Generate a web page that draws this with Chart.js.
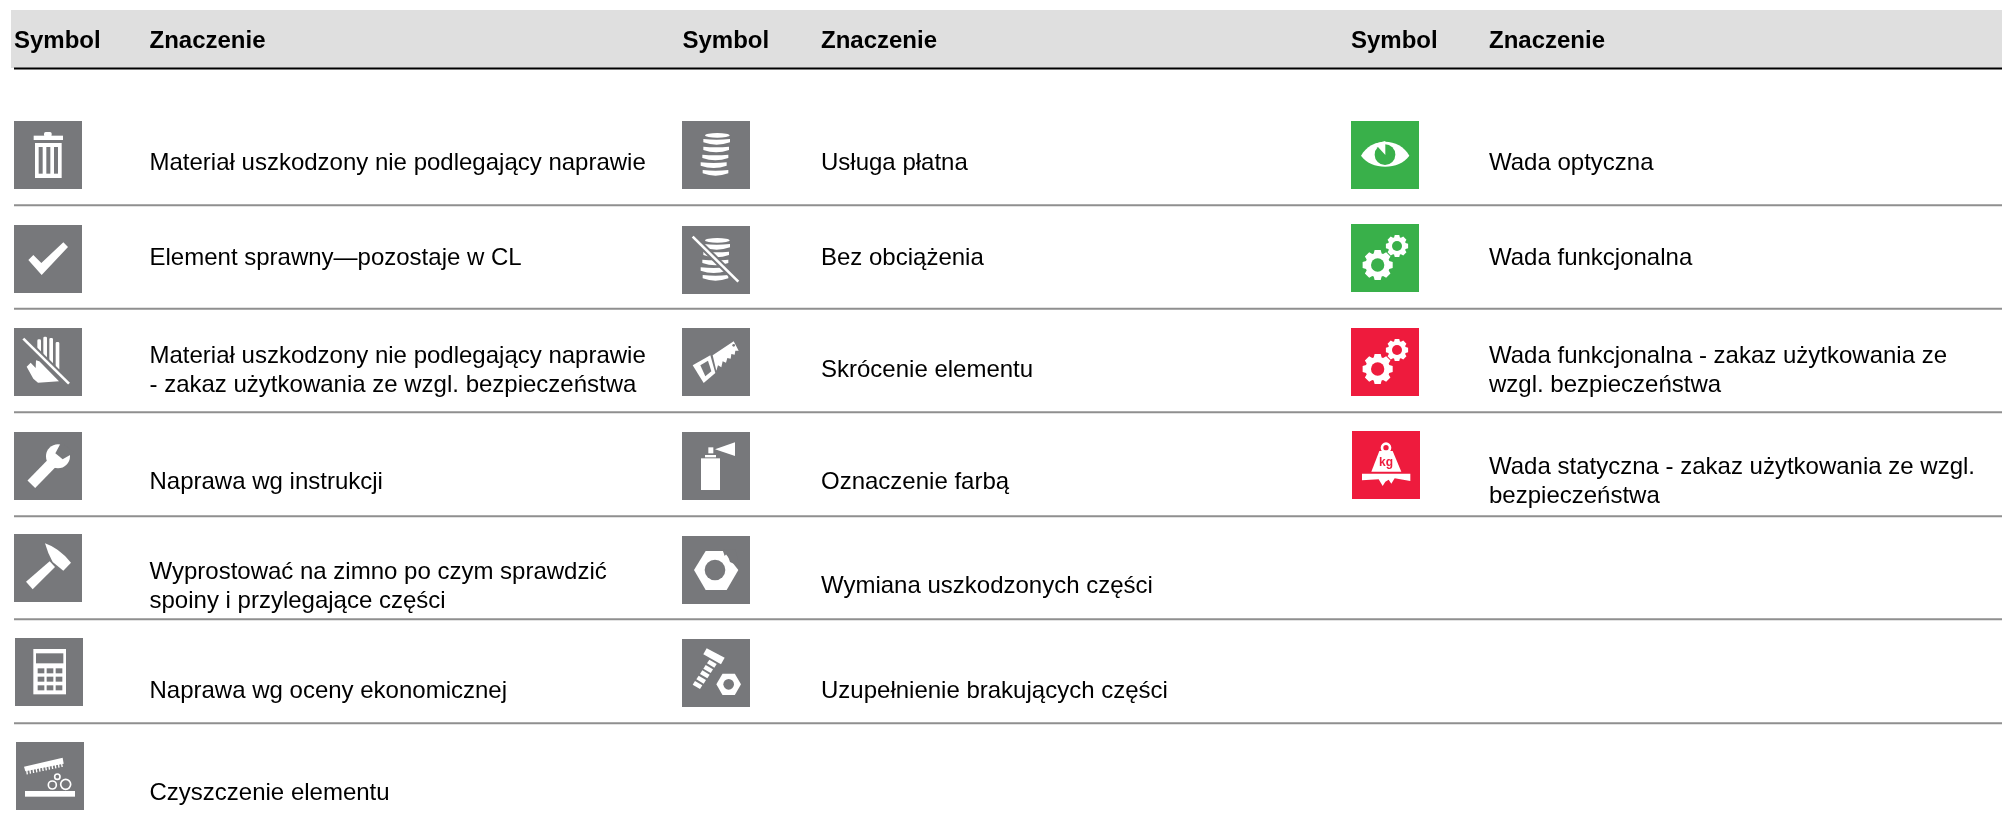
<!DOCTYPE html>
<html lang="pl">
<head>
<meta charset="utf-8">
<title>Symbole</title>
<script src="https://cdn.jsdelivr.net/npm/chart.js@4/dist/chart.umd.min.js"></script>
<style>
html, body { margin: 0; padding: 0; background: #fff; }
canvas { display: block; }
</style>
</head>
<body>
<canvas id="legendChart" width="2002" height="821"></canvas>
<script>
// Tresc tabeli
var symbolHeader = "Symbol";
var meaningHeader = "Znaczenie";

var col1Labels = [
    ["Materiał uszkodzony nie podlegający naprawie"],
    ["Element sprawny—pozostaje w CL"],
    ["Materiał uszkodzony nie podlegający naprawie", "- zakaz użytkowania ze wzgl. bezpieczeństwa"],
    ["Naprawa wg instrukcji"],
    ["Wyprostować na zimno po czym sprawdzić", "spoiny i przylegające części"],
    ["Naprawa wg oceny ekonomicznej"],
    ["Czyszczenie elementu"]
];
var col2Labels = [
    ["Usługa płatna"],
    ["Bez obciążenia"],
    ["Skrócenie elementu"],
    ["Oznaczenie farbą"],
    ["Wymiana uszkodzonych części"],
    ["Uzupełnienie brakujących części"]
];
var col3Labels = [
    ["Wada optyczna"],
    ["Wada funkcjonalna"],
    ["Wada funkcjonalna - zakaz użytkowania ze", "wzgl. bezpieczeństwa"],
    ["Wada statyczna - zakaz użytkowania ze wzgl.", "bezpieczeństwa"]
];

var col1Icons = ["trash", "check", "hand", "wrench", "hammer", "calc", "clean"];
var col2Icons = ["coins", "nocoins", "saw", "spray", "nut", "bolt"];
var col3Icons = ["eye", "gearsGreen", "gearsRed", "kg"];

// Uklad: kolumna i wiersz to jednostki osi x i y
var colStep = 668.5, firstColX = 48, rowStep = 103.5, firstRowY = 155;
var textIndent = [135.5, 138.5, 138];
var lineHeight = 29;
var col1TextShift = [8, -0.5, 8.5, 16.5, 17.5, 18.5, 17];
var col2TextShift = [8, -0.5, 8, 16.5, 17, 18.5];
var col3TextShift = [8, -0.5, 8.5, 16];
// drobne przesuniecia ikon w pikselach
var col1NudgeX = [0, 0, 0, 0, 0, 1, 2];
var col1NudgeY = [0, 0.5, 0, 0.5, -1, -0.5, 0];
var col2NudgeX = [-0.5, -0.5, -0.5, -0.5, -0.5, -0.5];
var col2NudgeY = [0, 1.5, 0, 0.5, 1, 0.5];
var col3NudgeX = [0, 0, 0, 1];
var col3NudgeY = [0, -0.5, 0, -0.5];
var ruleRows = [0.485, 1.485, 2.485, 3.49, 4.485, 5.49];

var GREY = "#77787b", GREEN = "#39b04a", RED = "#ee1b3d", WHITE = "#ffffff";

function poly(c, pts) {
    c.beginPath();
    c.moveTo(pts[0][0], pts[0][1]);
    for (var i = 1; i < pts.length; i++) c.lineTo(pts[i][0], pts[i][1]);
    c.closePath();
    c.fill();
}

function slash(c, x0, y0, x1, y1, bg) {
    c.lineCap = "butt";
    c.strokeStyle = bg;
    c.lineWidth = 20;
    c.beginPath(); c.moveTo(x0, y0); c.lineTo(x1, y1); c.stroke();
    c.strokeStyle = WHITE;
    c.lineWidth = 8;
    c.beginPath(); c.moveTo(x0, y0); c.lineTo(x1, y1); c.stroke();
}

function drawCoins(c) {
    c.beginPath();
    c.ellipse(106, 43, 37, 7, 0, 0, Math.PI * 2);
    c.fill();
    var slabs = [[64, 144, 54], [64, 141, 77], [61, 139, 101], [56, 134, 124], [62, 139, 147]];
    slabs.forEach(function (s) {
        var mid = (s[0] + s[1]) / 2;
        c.beginPath();
        c.moveTo(s[0], s[2]);
        c.quadraticCurveTo(mid, s[2] + 4, s[1], s[2]);
        c.lineTo(s[1], s[2] + 10);
        c.quadraticCurveTo(mid, s[2] + 24, s[0], s[2] + 10);
        c.closePath();
        c.fill();
    });
}

function gear(c, x, y, r, hole, bg) {
    var teeth = 8;
    c.fillStyle = WHITE;
    c.beginPath();
    for (var i = 0; i < teeth; i++) {
        var a = i * Math.PI * 2 / teeth;
        var w = 0.2;
        var pts = [[a - 0.33, r * 0.8], [a - w, r], [a + w, r], [a + 0.33, r * 0.8]];
        pts.forEach(function (p, j) {
            var px = x + Math.cos(p[0]) * p[1], py = y + Math.sin(p[0]) * p[1];
            if (i === 0 && j === 0) c.moveTo(px, py); else c.lineTo(px, py);
        });
    }
    c.closePath();
    c.fill();
    c.fillStyle = bg;
    c.beginPath(); c.arc(x, y, hole, 0, Math.PI * 2); c.fill();
}

function hexagon(c, x, y, r, rot) {
    var pts = [];
    for (var i = 0; i < 6; i++) {
        var a = rot + i * Math.PI / 3;
        pts.push([x + Math.cos(a) * r, y + Math.sin(a) * r]);
    }
    poly(c, pts);
}

// Ikony rysowane w ukladzie 204x204, potem skalowane do 68x68
var iconPainters = {
    trash: function (c) {
        c.fillRect(59, 44, 88, 13);
        c.beginPath(); c.roundRect(90, 33, 23, 14, 5); c.fill();
        c.fillRect(63, 66, 80, 105);
        c.fillStyle = GREY;
        c.fillRect(74, 78, 12, 80);
        c.fillRect(97, 78, 12, 80);
        c.fillRect(120, 78, 12, 80);
    },
    check: function (c) {
        poly(c, [[43, 105], [58, 90], [82, 114], [148, 52], [162, 66], [83, 150]]);
    },
    hand: function (c) {
        c.beginPath();
        c.roundRect(70, 34, 11, 50, 4);
        c.roundRect(88, 26, 11, 70, 4);
        c.roundRect(106, 30, 11, 80, 4);
        c.roundRect(125, 42, 11, 85, 4);
        c.fill();
        poly(c, [[38, 116], [50, 104], [65, 120], [66, 97], [76, 100], [135, 160], [72, 164], [58, 152]]);
        slash(c, 28, 32, 165, 167, GREY);
    },
    wrench: function (c) {
        c.strokeStyle = WHITE;
        c.lineWidth = 32;
        c.beginPath(); c.moveTo(52, 157); c.lineTo(115, 92); c.stroke();
        c.beginPath(); c.arc(132, 73, 36, 0, Math.PI * 2); c.fill();
        c.fillStyle = GREY;
        poly(c, [[124, 64], [142, 30], [180, 62], [146, 82]]);
    },
    hammer: function (c) {
        poly(c, [[36, 143], [107, 82], [123, 99], [56, 166]]);
        c.beginPath();
        c.moveTo(93, 28);
        c.quadraticCurveTo(135, 42, 171, 86);
        c.lineTo(148, 110);
        c.lineTo(116, 84);
        c.quadraticCurveTo(102, 60, 93, 28);
        c.fill();
    },
    calc: function (c) {
        c.fillRect(55, 33, 98, 136);
        c.fillStyle = GREY;
        c.fillRect(63, 46, 82, 30);
        [68, 95, 122].forEach(function (x) {
            [91, 116, 142].forEach(function (y) { c.fillRect(x, y, 20, 15); });
        });
    },
    clean: function (c) {
        c.fillRect(27, 147, 150, 17);
        poly(c, [[24, 74], [140, 47], [143, 65], [28, 88]]);
        c.lineWidth = 4;
        c.strokeStyle = WHITE;
        for (var i = 0; i < 12; i++) {
            var x = 32 + i * 9.5, y = 84 - i * 2;
            c.beginPath(); c.moveTo(x, y); c.lineTo(x + 2, y + 13); c.stroke();
        }
        c.lineWidth = 5;
        [[109, 129, 12], [149, 127, 15], [124, 104, 8]].forEach(function (b) {
            c.beginPath(); c.arc(b[0], b[1], b[2], 0, Math.PI * 2); c.stroke();
        });
    },
    coins: drawCoins,
    nocoins: function (c) {
        drawCoins(c);
        slash(c, 32, 32, 169, 167, GREY);
    },
    saw: function (c) {
        poly(c, [[92, 82], [155, 40], [170, 68], [160, 68], [158, 80], [148, 78], [146, 92], [136, 90], [132, 104], [122, 100], [118, 118], [108, 112], [103, 128]]);
        poly(c, [[32, 112], [85, 82], [100, 135], [65, 165]]);
        c.fillStyle = GREY;
        poly(c, [[55, 112], [78, 98], [88, 130], [70, 145]]);
        c.beginPath(); c.arc(155, 52, 4, 0, Math.PI * 2); c.fill();
    },
    spray: function (c) {
        c.fillRect(57, 79, 57, 95);
        c.fillRect(69, 69, 33, 7);
        c.fillRect(79, 46, 15, 18);
        poly(c, [[99, 52], [159, 31], [159, 72]]);
    },
    nut: function (c) {
        poly(c, [[36, 102], [71, 45], [124, 45], [169, 102], [134, 162], [71, 162]]);
        c.fillStyle = GREY;
        c.beginPath(); c.arc(99, 102, 31, 0, Math.PI * 2); c.fill();
        poly(c, [[122, 42], [128, 60], [135, 52], [144, 78], [152, 82], [172, 88], [160, 40]]);
    },
    bolt: function (c) {
        poly(c, [[74, 28], [128, 56], [117, 76], [64, 46]]);
        [[82, 62], [71, 78], [61, 94], [50, 110], [39, 126]].forEach(function (b) {
            poly(c, [[b[0], b[1]], [b[0] + 22, b[1] + 13], [b[0] + 15, b[1] + 24], [b[0] - 7, b[1] + 11]]);
        });
        hexagon(c, 140, 136, 37, 0);
        c.fillStyle = GREY;
        c.beginPath(); c.arc(140, 136, 16, 0, Math.PI * 2); c.fill();
    },
    eye: function (c) {
        c.beginPath();
        c.moveTo(30, 104);
        c.bezierCurveTo(60, 48, 145, 48, 175, 104);
        c.bezierCurveTo(145, 148, 60, 148, 30, 104);
        c.fill();
        c.fillStyle = GREEN;
        c.beginPath(); c.arc(102, 101, 31, 0, Math.PI * 2); c.fill();
        c.fillStyle = WHITE;
        poly(c, [[72, 68], [103, 60], [103, 102]]);
    },
    gearsGreen: function (c) {
        gear(c, 80, 123, 46, 20, GREEN);
        gear(c, 138, 66, 34, 15, GREEN);
    },
    gearsRed: function (c) {
        gear(c, 80, 123, 46, 20, RED);
        gear(c, 138, 66, 34, 15, RED);
    },
    kg: function (c) {
        c.strokeStyle = WHITE;
        c.lineWidth = 8;
        c.beginPath(); c.arc(102, 50, 12, 0, Math.PI * 2); c.stroke();
        poly(c, [[82, 60], [122, 60], [148, 122], [58, 122]]);
        poly(c, [[30, 128], [175, 128], [175, 150], [128, 142], [118, 158], [110, 146], [100, 152], [92, 165], [80, 145], [30, 148]]);
        c.fillStyle = RED;
        c.font = "bold 36px 'Liberation Sans'";
        c.textAlign = "center";
        c.textBaseline = "middle";
        c.fillText("kg", 102, 95);
    }
};

function makeIcon(name) {
    var bg = GREY;
    if (name === "eye" || name === "gearsGreen") bg = GREEN;
    if (name === "gearsRed" || name === "kg") bg = RED;
    var icon = document.createElement("canvas");
    icon.width = 68;
    icon.height = 68;
    var c = icon.getContext("2d");
    c.fillStyle = bg;
    c.fillRect(0, 0, 68, 68);
    c.scale(1 / 3, 1 / 3);
    c.fillStyle = WHITE;
    iconPainters[name](c);
    return icon;
}

function iconDataset(names, col, nudgeX, nudgeY) {
    return {
        data: names.map(function (n, r) {
            return { x: col + nudgeX[r] / colStep, y: r + nudgeY[r] / rowStep };
        }),
        pointStyle: names.map(makeIcon),
        pointRadius: 34,
        showLine: false,
        order: 1
    };
}

function ruleDataset(row, fromCol, color, width) {
    return {
        data: [{ x: fromCol, y: row }, { x: (2002 - firstColX) / colStep, y: row }],
        showLine: true,
        pointRadius: 0,
        borderColor: color,
        borderWidth: width,
        order: 2
    };
}

var ruleStart = (14 - firstColX) / colStep;
var datasets = [
    iconDataset(col1Icons, 0, col1NudgeX, col1NudgeY),
    iconDataset(col2Icons, 1, col2NudgeX, col2NudgeY),
    iconDataset(col3Icons, 2, col3NudgeX, col3NudgeY),
    ruleDataset((68.5 - firstRowY) / rowStep, ruleStart, "#000000", 2)
];
ruleRows.forEach(function (r) {
    datasets.push(ruleDataset(r, ruleStart, "#8f8f8f", 2));
});

// Pas naglowka i teksty
var tablePlugin = {
    id: "tablePlugin",
    beforeDatasetsDraw: function (chart) {
        var c = chart.ctx, xs = chart.scales.x, ys = chart.scales.y;
        var left = xs.getPixelForValue(ruleStart - 3 / colStep);
        var top = ys.getPixelForValue((10 - firstRowY) / rowStep);
        var bottom = ys.getPixelForValue((68 - firstRowY) / rowStep);
        c.save();
        c.fillStyle = "#dfdfdf";
        c.fillRect(left, top, xs.right - left, bottom - top);
        c.restore();
    },
    afterDatasetsDraw: function (chart) {
        var c = chart.ctx, xs = chart.scales.x, ys = chart.scales.y;
        c.save();
        c.fillStyle = "#000000";
        c.textBaseline = "middle";
        c.textAlign = "left";
        // naglowki
        c.font = "bold 24px 'Liberation Sans'";
        [0, 1, 2].forEach(function (col) {
            var x = xs.getPixelForValue(col);
            var y = ys.getPixelForValue((41 - firstRowY) / rowStep);
            c.fillText(symbolHeader, x - 34, y);
            c.fillText(meaningHeader, x + textIndent[col] - 34, y);
        });
        // opisy
        c.font = "24px 'Liberation Sans'";
        [[col1Labels, col1TextShift], [col2Labels, col2TextShift], [col3Labels, col3TextShift]].forEach(function (column, col) {
            column[0].forEach(function (lines, r) {
                var x = xs.getPixelForValue(col) + textIndent[col] - 34;
                var y = ys.getPixelForValue(r) + column[1][r] - (lines.length - 1) * lineHeight / 2;
                lines.forEach(function (line, i) {
                    c.fillText(line, x, y + i * lineHeight);
                });
            });
        });
        c.restore();
    }
};

var legendChart = new Chart(document.getElementById("legendChart").getContext("2d"), {
    type: "scatter",
    data: { datasets: datasets },
    plugins: [tablePlugin],
    options: {
        responsive: false,
        animation: false,
        layout: { padding: 0, autoPadding: false },
        plugins: { legend: { display: false }, tooltip: { enabled: false } },
        scales: {
            x: { display: false, min: -firstColX / colStep, max: (2002 - firstColX) / colStep },
            y: { display: false, reverse: true, min: -firstRowY / rowStep, max: (821 - firstRowY) / rowStep }
        }
    }
});
</script>
</body>
</html>
